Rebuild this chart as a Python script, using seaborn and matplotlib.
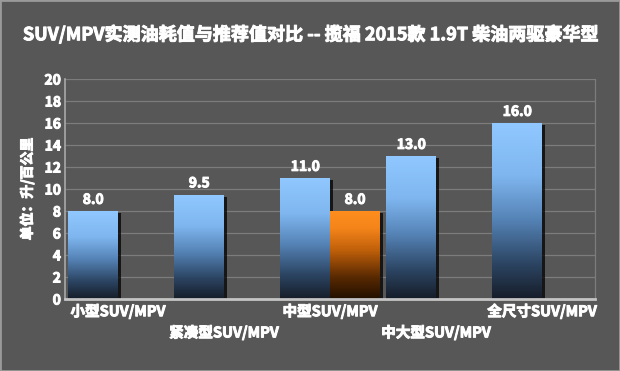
import numpy as np
import pandas as pd
import seaborn as sns
from matplotlib import pyplot as plt
from matplotlib import patheffects
from matplotlib.colors import LinearSegmentedColormap
from matplotlib.patches import Rectangle
from matplotlib.transforms import offset_copy

title = 'SUV/MPV实测油耗值与推荐值对比 -- 揽福 2015款 1.9T 柴油两驱豪华型'
categories = ['小型SUV/MPV', '紧凑型SUV/MPV', '中型SUV/MPV', '中大型SUV/MPV', '全尺寸SUV/MPV']
recommended = [8.0, 9.5, 11.0, 13.0, 16.0]
measured = [np.nan, np.nan, 8.0, np.nan, np.nan]
y_ticks = [0, 2, 4, 6, 8, 10, 12, 14, 16, 18, 20]

df = pd.DataFrame({
    '车型': categories * 2,
    '油耗': recommended + measured,
    '类别': ['推荐值'] * 5 + ['实测值'] * 5,
})

bg = '#575757'
sns.set_style('dark')
plt.rcParams['font.family'] = ['Noto Sans CJK SC', 'DejaVu Sans']
# fake a heavier weight, the original uses a black font
heavy = [patheffects.withStroke(linewidth=0.7, foreground='white')]

# gradients for the bars, bottom -> top
blue_cmap = LinearSegmentedColormap.from_list(
    'blue_bar', [(0, '#161d29'), (0.2, '#2c4563'), (0.45, '#5583b6'), (0.7, '#7fb6ef'), (1, '#90c8ff')])
orange_cmap = LinearSegmentedColormap.from_list(
    'orange_bar', [(0, '#221000'), (0.25, '#5a2a02'), (0.55, '#c0600a'), (0.8, '#f5851a'), (1, '#ff8e1e')])

fig = plt.figure(figsize=(6.2, 3.71), dpi=100, facecolor=bg)
ax = fig.add_axes([0.105, 0.194, 0.855, 0.593])
ax.set_facecolor(bg)

sns.barplot(data=df, x='车型', y='油耗', hue='类别', hue_order=['推荐值', '实测值'],
            palette={'推荐值': '#8ec6ff', '实测值': '#ff8c1a'}, width=0.94,
            saturation=1, legend=False, errorbar=None, ax=ax)

grad = np.linspace(0, 1, 256).reshape(-1, 1)
shadow_tr = offset_copy(ax.transData, fig=fig, x=2, y=-1.5, units='points')
bars = [p for p in ax.patches if np.isfinite(p.get_height()) and p.get_height() > 0]
for p in bars:
    x0, w, h = p.get_x(), p.get_width(), p.get_height()
    cmap = orange_cmap if p.get_facecolor()[0] > 0.9 else blue_cmap
    p.set_edgecolor('none')
    ax.add_patch(Rectangle((x0, 0), w, h, transform=shadow_tr, facecolor='black',
                           alpha=0.75, lw=0, zorder=p.get_zorder() - 0.2))
    im = ax.imshow(grad, cmap=cmap, extent=[x0, x0 + w, 0, h], origin='lower',
                   aspect='auto', zorder=p.get_zorder() + 0.1)
    im.set_clip_path(p)

for c in ax.containers:
    for t in ax.bar_label(c, fmt='%.1f', padding=3, color='white', fontweight='bold', fontsize=10):
        t.set_path_effects(heavy)

ax.set_xlim(-0.5, len(categories) - 0.5)
ax.set_ylim(0, 20)
ax.set_yticks(y_ticks)
ax.yaxis.grid(True, color='#7c7c7c', lw=0.9)
ax.xaxis.grid(False)
ax.set_axisbelow(True)

ax.spines['top'].set_visible(False)
ax.spines['left'].set_color('#a8a8a8')
ax.spines['left'].set_linewidth(1.2)
ax.spines['bottom'].set_color('#c4c4c4')
ax.spines['bottom'].set_linewidth(2)
ax.spines['right'].set_color('#7c7c7c')
ax.spines['right'].set_linewidth(0.9)

staggered = [c if i % 2 == 0 else '\n' + c for i, c in enumerate(categories)]
ax.set_xticks(range(len(categories)))
ax.set_xticklabels(staggered, fontweight='bold', fontsize=10.5, color='white', linespacing=1.4)
ax.tick_params(axis='both', length=0, labelcolor='white')
ax.tick_params(axis='x', pad=3)
ax.tick_params(axis='y', pad=3, labelsize=10)
for lbl in ax.get_yticklabels():
    lbl.set_fontweight('bold')
for lbl in ax.get_xticklabels() + ax.get_yticklabels():
    lbl.set_path_effects(heavy)

ax.set_xlabel('')
ax.set_ylabel('单位：升/百公里', color='white', fontweight='bold', fontsize=10, labelpad=7,
              path_effects=heavy)

fig.text(0.5, 0.908, title, ha='center', va='center', color='white', fontweight='bold',
         fontsize=13, path_effects=heavy)
fig.patches.append(Rectangle((0, 0), 1, 1, transform=fig.transFigure, fill=False,
                             edgecolor='#9a9a9a', lw=2))

fig.savefig('out.png', dpi=100, facecolor=fig.get_facecolor())
